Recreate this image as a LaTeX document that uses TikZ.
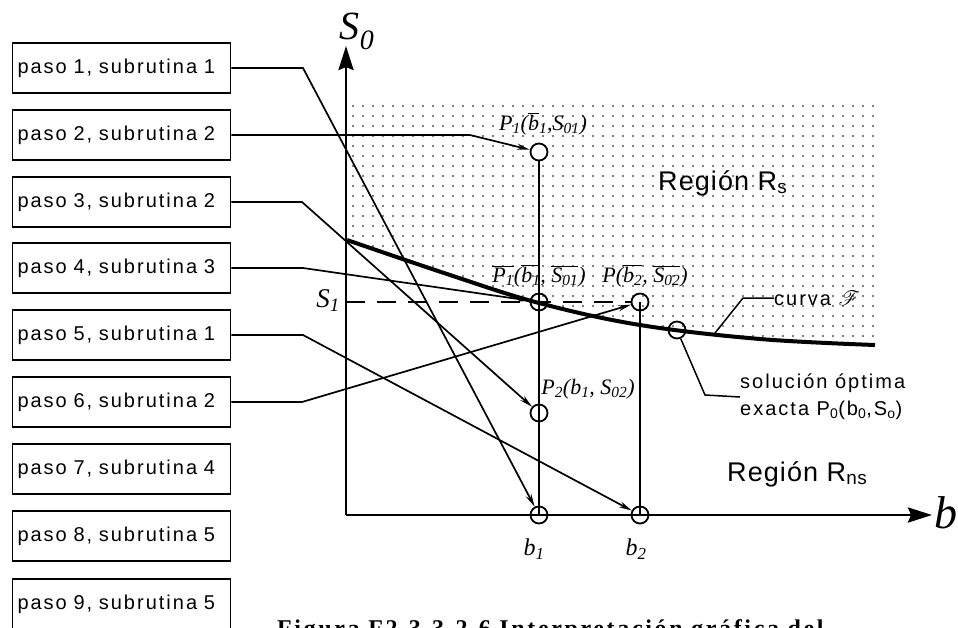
\documentclass[tikz,border=0pt]{standalone}
\usepackage{fontspec}
\setmainfont{Liberation Serif}
\setsansfont{Liberation Sans}
\usepackage{graphicx}
\usepackage{mathrsfs}
\usetikzlibrary{arrows.meta}
\newfontfamily\boxfont[LetterSpace=10]{Liberation Sans}
\newfontfamily\regfont[LetterSpace=4]{Liberation Sans}
\newfontfamily\capfont[LetterSpace=11]{Liberation Serif}
\newfontfamily\labfont{Liberation Serif}
\newcommand{\ovl}[1]{$\overline{\hbox{#1}}$}
\newcommand{\sbs}[1]{\textsubscript{#1}}
\tikzset{
  pbox/.style={draw, line width=1.8pt, text width=208pt, align=left, inner sep=5pt,
    minimum height=50pt, font=\boxfont\fontsize{20}{24}\selectfont},
  conn/.style={line width=1.7pt, -{Stealth[length=13pt,width=6pt]}},
  pt/.style={draw, circle, minimum size=17pt, inner sep=0pt, line width=1.8pt},
  axis/.style={line width=2.8pt, -{Stealth[length=24pt,width=15pt,inset=3pt]}},
  vline/.style={line width=1.6pt},
  mlab/.style={inner sep=0pt, font=\labfont\itshape\fontsize{22}{22}\selectfont},
  txt/.style={inner sep=0pt, align=left, font=\boxfont\fontsize{20}{27}\selectfont},
  region/.style={inner sep=0pt, anchor=west, font=\regfont\fontsize{27}{27}\selectfont},
}
\begin{document}
\begin{tikzpicture}[x=1pt,y=-1pt]
\useasboundingbox (0,0) rectangle (958,627);
\fill[white] (0,0) rectangle (958,627);

% dotted region above the curve
\begin{scope}
\clip plot[smooth, tension=0.6] coordinates {(347,240) (450,275) (539,303) (640,325) (760,339) (875,345)}
  -- (878,345) -- (878,103) -- (348,103) -- cycle;
\fill \foreach \i in {0,...,52} { \foreach \j in {0,...,24} { (353+10*\i, 106+10*\j) circle (0.9pt) } };
\end{scope}

% axes
\coordinate (O) at (346,515);
\coordinate (Ytop) at (346,46);
\coordinate (Xend) at (932,515);
\draw[axis] (O) -- (Ytop);
\draw[axis] (O) -- (Xend);
\node[inner sep=0pt, font=\labfont\itshape\fontsize{40}{40}\selectfont] (lS0) at (357,31) {S\sbs{0}};
\node[inner sep=0pt, font=\labfont\itshape\fontsize{46}{46}\selectfont] (lb) at (946,513) {b};

% curve F
\draw[line width=4pt] plot[smooth, tension=0.6] coordinates {(347,240) (450,275) (539,303) (640,325) (760,339) (875,345)};

% points
\node[pt, fill=white] (cP1) at (539,152) {};
\node[pt] (cPb1) at (539,302) {};
\node[pt] (cP2) at (539,413) {};
\node[pt] (cb1) at (539,515) {};
\node[pt] (cPb2) at (640,302) {};
\node[pt] (cb2) at (640,515) {};
\node[pt] (copt) at (677,330) {};

% verticals
\draw[vline] (cP1.south) -- (cb1.center);
\draw[vline] (cPb2.center) -- (cb2.center);

% dashed S1 level
\coordinate (s1) at (346,302);
\draw[line width=2.2pt, dash pattern=on 19pt off 12pt] (s1) -- (cPb2.west);
\node[inner sep=0pt, font=\labfont\itshape\fontsize{27}{27}\selectfont] (lS1) at (328,301) {S\sbs{1}};

% point labels
\node[mlab] (lP1) at (543,124) {P\sbs{1}(\ovl{b}\sbs{1},S\sbs{01})};
\node[mlab] (lPb1) at (539,276) {\ovl{P\sbs{1}}(\ovl{b\sbs{1}}, \ovl{S\sbs{01}})};
\node[mlab] (lPb2) at (645,276) {P(\ovl{b\sbs{2}}, \ovl{S\sbs{02}})};
\node[mlab] (lP2) at (588,389) {P\sbs{2}(b\sbs{1}, S\sbs{02})};
\node[mlab, font=\labfont\itshape\fontsize{24}{24}\selectfont] (lb1) at (534,549) {b\sbs{1}};
\node[mlab, font=\labfont\itshape\fontsize{24}{24}\selectfont] (lb2) at (636,549) {b\sbs{2}};

% region labels
\node[region] (rs) at (658,183) {Región R\sbs{s}};
\node[region] (rns) at (727,474) {Región R\sbs{ns}};

% curva F leader
\coordinate (cv) at (715,333);
\coordinate (cvk) at (743,298);
\node[txt, anchor=west] (lcurva) at (774,298) {curva $\mathscr{F}$};
\draw[line width=1.5pt] (cv) -- (cvk) -- (lcurva.west);

% optimal solution leader
\coordinate (ok) at (705,395);
\node[txt, anchor=west] (lopt) at (740,397) {solución óptima\\exacta P\sbs{0}(b\sbs{0},S\sbs{o})};
\draw[line width=1.5pt] (copt) -- (ok) -- (lopt.west);

% step boxes
\node[pbox] (p1) at (121.5,68) {paso 1, subrutina 1};
\node[pbox] (p2) at (121.5,135) {paso 2, subrutina 2};
\node[pbox] (p3) at (121.5,202) {paso 3, subrutina 2};
\node[pbox] (p4) at (121.5,268) {paso 4, subrutina 3};
\node[pbox] (p5) at (121.5,335) {paso 5, subrutina 1};
\node[pbox] (p6) at (121.5,402) {paso 6, subrutina 2};
\node[pbox] (p7) at (121.5,469) {paso 7, subrutina 4};
\node[pbox] (p8) at (121.5,536) {paso 8, subrutina 5};
\node[pbox] (p9) at (121.5,604) {paso 9, subrutina 5};

% connectors
\coordinate (k1) at (303,68);
\coordinate (k2) at (470,135);
\coordinate (k3) at (302,202);
\coordinate (k4) at (303,268);
\coordinate (k5) at (303,335);
\coordinate (k6) at (302,402);
\draw[conn] (p1.east) -- (k1) -- (cb1);
\draw[conn] (p2.east) -- (k2) -- (cP1);
\draw[conn] (p3.east) -- (k3) -- (cP2);
\draw[conn] (p4.east) -- (k4) -- (cPb1);
\draw[conn] (p5.east) -- (k5) -- (cb2);
\draw[conn] (p6.east) -- (k6) -- (cPb2);

% caption (cut off at the bottom)
\node[anchor=base west, inner sep=0pt, font=\capfont\bfseries\fontsize{24}{24}\selectfont] (cap) at (277,636) {Figura F2.3.3.2.6 Interpretación gráfica del};
\end{tikzpicture}
\end{document}
